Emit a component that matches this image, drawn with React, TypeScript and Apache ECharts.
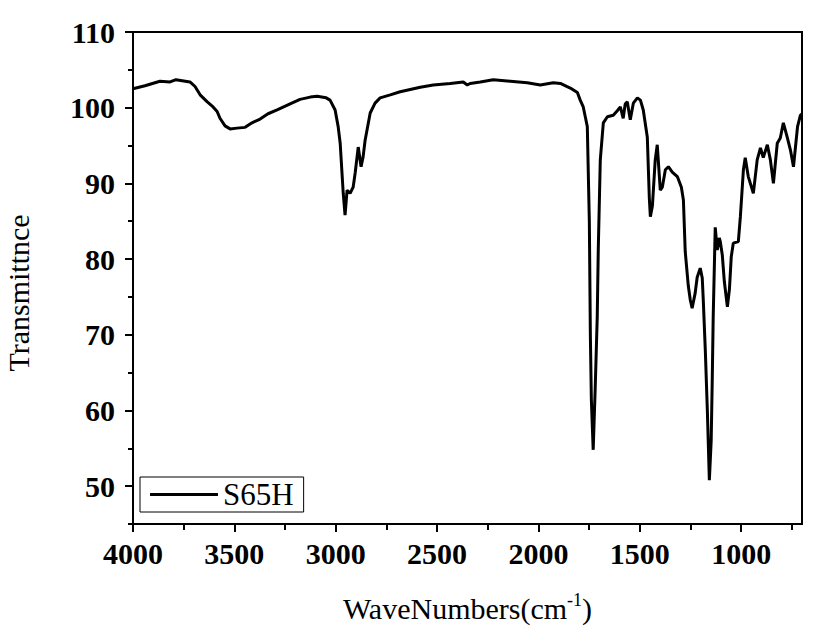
import React, { useEffect, useRef } from "react";
import * as echarts from "echarts";

// Wavenumber (cm^-1) and transmittance (%)
const waveNumbers = [
  4000, 3941, 3867, 3817, 3788, 3719, 3694, 3669, 3635, 3605, 3585, 3571, 3546, 3521, 3487, 3447,
  3413, 3373, 3334, 3289, 3225, 3176, 3126, 3092, 3047, 3028, 3003, 2988, 2978, 2963, 2954, 2944,
  2929, 2914, 2904, 2889, 2875, 2865, 2855, 2830, 2806, 2781, 2731, 2682, 2583, 2519, 2435, 2371,
  2351, 2337, 2287, 2223, 2139, 2055, 1991, 1927, 1892, 1843, 1808, 1794, 1779, 1769, 1759, 1749,
  1744, 1739, 1730, 1720, 1710, 1705, 1695, 1680, 1660, 1631, 1611, 1596, 1582, 1572, 1562, 1547,
  1532, 1512, 1497, 1483, 1463, 1453, 1448, 1438, 1424, 1414, 1399, 1389, 1374, 1359, 1340, 1315,
  1295, 1285, 1276, 1261, 1251, 1242, 1227, 1217, 1202, 1192, 1187, 1177, 1167, 1157, 1148, 1143,
  1138, 1128, 1118, 1108, 1103, 1093, 1083, 1068, 1058, 1049, 1039, 1014, 1004, 989, 980, 965,
  940, 921, 905, 891, 871, 856, 841, 822, 807, 792, 773, 757, 742, 722, 708, 700,
];
const transmittance = [
  102.5, 102.9, 103.5, 103.4, 103.7, 103.4, 102.8, 101.7, 100.8, 100.1, 99.5, 98.6, 97.6, 97.2, 97.3, 97.4,
  98.0, 98.5, 99.2, 99.7, 100.5, 101.1, 101.4, 101.5, 101.3, 101.0, 99.7, 97.5, 95.3, 88.7, 85.8, 89.1,
  88.7, 89.5, 91.4, 94.8, 92.2, 93.5, 95.7, 99.3, 100.6, 101.3, 101.7, 102.1, 102.7, 103.0, 103.2, 103.4,
  103.0, 103.2, 103.4, 103.7, 103.5, 103.3, 103.0, 103.3, 103.2, 102.6, 102.0, 101.0, 100.1, 98.8, 97.5, 85.0,
  70.0, 61.4, 54.8, 63.0, 72.4, 81.2, 93.1, 98.0, 98.8, 99.0, 99.6, 100.1, 98.6, 100.5, 100.8, 98.4,
  100.6, 101.3, 101.0, 99.7, 96.1, 88.0, 85.6, 87.0, 93.1, 95.1, 89.1, 89.5, 91.8, 92.2, 91.5, 90.9,
  89.5, 87.8, 81.0, 76.5, 74.6, 73.5, 75.5, 77.6, 78.8, 77.5, 74.6, 68.0, 60.1, 50.8, 56.0, 63.6,
  72.4, 84.2, 81.2, 82.8, 82.3, 80.5, 77.0, 73.7, 76.0, 80.3, 82.1, 82.3, 85.6, 91.8, 93.4, 90.9,
  88.7, 93.1, 94.7, 93.4, 95.1, 93.1, 90.0, 95.3, 96.0, 98.0, 96.1, 94.4, 92.2, 97.5, 99.0, 99.2,
];

const xMajorTicks = [1000, 1500, 2000, 2500, 3000, 3500, 4000];
const xMinorTicks = [750, 1250, 1750, 2250, 2750, 3250, 3750];
const yMajorTicks = [50, 60, 70, 80, 90, 100, 110];
const yMinorTicks = [45, 55, 65, 75, 85, 95, 105];
const seriesName = "S65H";

const FONT = "'Liberation Serif', 'Times New Roman', serif";

export default function App() {
  const ref = useRef<HTMLDivElement>(null);

  useEffect(() => {
    if (!ref.current) return;
    const chart = echarts.init(ref.current, undefined, { renderer: "svg" });
    const data = waveNumbers.map((w, i) => [w, transmittance[i]]);
    const labelStyle = {
      fontFamily: FONT,
      fontWeight: "bold" as const,
      fontSize: 30,
      color: "#000",
      formatter: (v: number) => String(v),
    };
    const axisLine = { show: true, lineStyle: { color: "#000", width: 2 } };

    chart.setOption({
      animation: false,
      backgroundColor: "#fff",
      grid: {
        left: 133,
        top: 32,
        right: 28,
        bottom: 111,
        show: true,
        borderColor: "#000",
        borderWidth: 2,
        backgroundColor: "transparent",
      },
      legend: {
        data: [{ name: seriesName, icon: "rect" }],
        left: 140,
        top: 477,
        orient: "horizontal",
        itemWidth: 68,
        itemHeight: 3,
        itemGap: 5,
        padding: [2, 10, 2, 10],
        borderColor: "#000",
        borderWidth: 1,
        backgroundColor: "#fff",
        itemStyle: { color: "#000", borderWidth: 0 },
        textStyle: { fontFamily: FONT, fontSize: 31, color: "#000", padding: [0, 0, 0, 0] },
      },
      xAxis: [
        {
          type: "value",
          min: 700,
          max: 4000,
          inverse: true,
          position: "bottom",
          axisLine,
          axisTick: {
            show: true,
            inside: false,
            length: 8,
            customValues: xMajorTicks,
            lineStyle: { color: "#000", width: 2 },
          },
          axisLabel: { ...labelStyle, margin: 14, customValues: xMajorTicks },
          splitLine: { show: false },
          name: "WaveNumbers(cm{sup|-1})",
          nameLocation: "middle",
          nameGap: 67,
          nameTextStyle: {
            fontFamily: FONT,
            fontSize: 30,
            color: "#000",
            rich: {
              sup: { fontFamily: FONT, fontSize: 18, color: "#000", padding: [0, 0, 17, 0] },
            },
          },
        },
        {
          type: "value",
          min: 700,
          max: 4000,
          inverse: true,
          position: "bottom",
          axisLine: { show: false },
          axisTick: {
            show: true,
            inside: false,
            length: 6,
            customValues: xMinorTicks,
            lineStyle: { color: "#000", width: 2 },
          },
          axisLabel: { show: false },
          splitLine: { show: false },
        },
      ],
      yAxis: [
        {
          type: "value",
          min: 45,
          max: 110,
          position: "left",
          axisLine,
          axisTick: {
            show: true,
            inside: false,
            length: 8,
            customValues: yMajorTicks,
            lineStyle: { color: "#000", width: 2 },
          },
          axisLabel: { ...labelStyle, margin: 18, customValues: yMajorTicks },
          splitLine: { show: false },
        },
        {
          type: "value",
          min: 45,
          max: 110,
          position: "left",
          axisLine: { show: false },
          axisTick: {
            show: true,
            inside: false,
            length: 5,
            customValues: yMinorTicks,
            lineStyle: { color: "#000", width: 2 },
          },
          axisLabel: { show: false },
          splitLine: { show: false },
        },
      ],
      graphic: [
        {
          type: "text",
          x: 18,
          y: 293,
          rotation: Math.PI / 2,
          style: {
            text: "Transmittnce",
            fontFamily: FONT,
            fontSize: 30,
            fill: "#000",
            textAlign: "center",
            textVerticalAlign: "middle",
          },
        },
      ],
      series: [
        {
          name: seriesName,
          type: "line",
          xAxisIndex: 0,
          yAxisIndex: 0,
          data,
          symbol: "none",
          smooth: false,
          lineStyle: { color: "#000", width: 3 },
          itemStyle: { color: "#000" },
        },
      ],
    });

    return () => chart.dispose();
  }, []);

  return (
    <div
      ref={ref}
      style={{ position: "absolute", left: 0, top: 0, width: 830, height: 635 }}
    />
  );
}
